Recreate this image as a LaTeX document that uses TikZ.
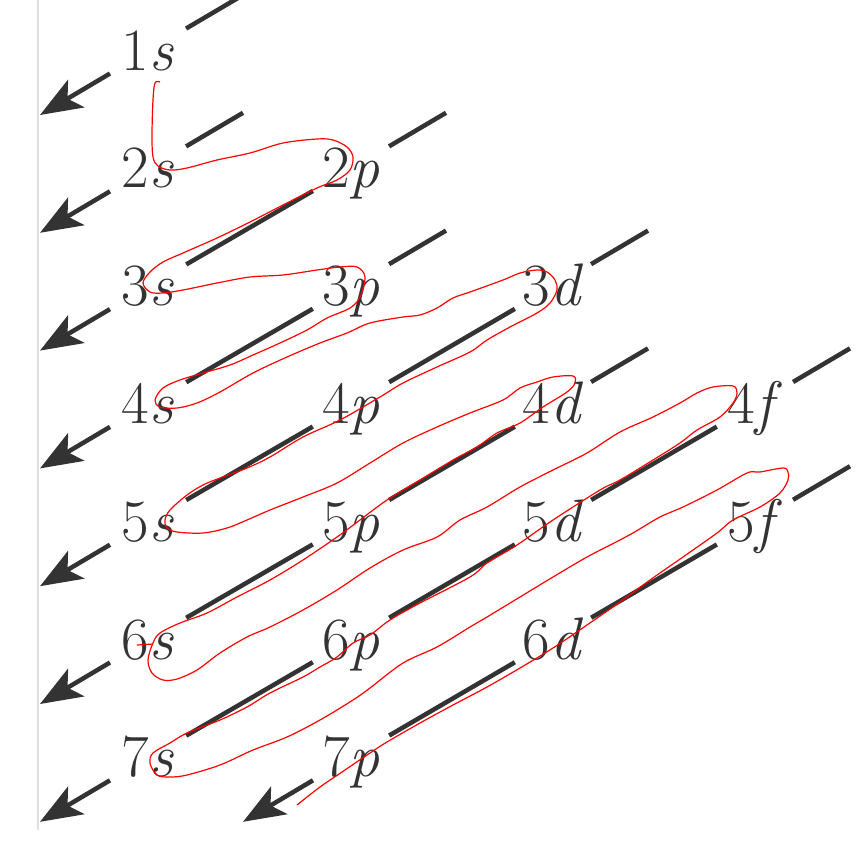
\documentclass[tikz,border=0pt]{standalone}
\usepackage{fontspec}
\usetikzlibrary{arrows.meta}
\begin{document}
\begin{tikzpicture}[x=1pt, y=-1pt,
  orb/.style = {circle, inner sep=0pt, minimum size=88pt,
    text height=38pt, text depth=0pt, text=black!80,
    font=\fontsize{60}{61}\selectfont},
  diag/.style = {draw=black!80, line width=4.5pt},
  bigarrow/.style = {-{Stealth[length=42pt, width=32pt, inset=10pt]}}]
  \useasboundingbox (0,0) rectangle (867,863);
  \draw[gray!25, line width=2pt] (38,0) -- (38,830);
  % orbital labels
  \foreach \n in {1,...,7}
    \node[orb] (s\n) at (148, {51+117.8*(\n-1)}) {\n\textit{s}};
  \foreach \n in {2,...,7}
    \node[orb] (p\n) at (351, {51+117.8*(\n-1)}) {\n\textit{p}};
  \foreach \n in {3,...,6}
    \node[orb] (d\n) at (553, {51+117.8*(\n-1)}) {\n\textit{d}};
  \foreach \n in {4,5}
    \node[orb] (f\n) at (755, {51+117.8*(\n-1)}) {\n\textit{f}};
  % diagonals
  \foreach \a/\b in {p2/s3, p3/s4, d3/p4, p4/s5, d4/p5, p5/s6,
                     f4/d5, d5/p6, p6/s7, f5/d6, d6/p7}
    \draw[diag] (\a) -- (\b);
  \foreach \n in {s1, s2, p2, p3, d3, d4, f4, f5}
    \draw[diag] (\n) -- ++(95,-56);
  \foreach \n in {s1, s2, s3, s4, s5, s6, s7, p7}
    \draw[diag, bigarrow] (\n) -- ++(-108,64);
  % hand-drawn filling order
  \draw[red, line width=1.2pt, line join=round]
    plot[smooth, tension=0.55] coordinates {
    (160,82) (155,83) (153,100) (152,135) (153,157) (158,166) (170,170)
    (187,168) (217,160) (250,153) (283,143) (317,139) (333,140) (347,147)
    (353,157) (350,170) (337,180) (317,188) (283,205) (250,222) (217,238)
    (183,253) (163,262) (150,272) (143,283) (150,292) (163,293) (183,290)
    (217,283) (250,277) (283,275) (317,270) (340,267) (357,267) (365,277)
    (360,297) (350,308) (327,318) (307,330) (280,343) (253,355) (230,365)
    (203,373) (180,380) (163,388) (155,400) (160,407) (177,408) (197,403)
    (220,392) (253,373) (287,357) (320,343) (347,333) (370,323) (403,317)
    (420,315) (437,308) (453,298) (470,292) (503,280) (520,273) (537,270)
    (547,272) (555,280) (557,290) (550,303) (537,313) (510,327) (487,340)
    (470,352) (437,367) (403,383) (380,397) (340,420) (303,437) (270,457)
    (247,468) (220,478) (203,485) (187,495) (170,510) (165,520) (167,528)
    (177,532) (203,533) (227,528) (247,520) (270,510) (303,497) (337,483)
    (370,463) (403,443) (437,427) (470,413) (503,400) (520,388) (537,382)
    (553,377) (573,376) (575,383) (567,392) (543,407) (520,423) (497,433)
    (477,447) (453,460) (420,480) (387,500) (360,520) (337,537) (303,560)
    (270,580) (237,597) (207,613) (180,623) (160,633) (153,643) (148,660)
    (152,673) (163,680) (177,679) (197,670) (220,653) (247,637) (270,627)
    (303,610) (337,590) (370,568) (403,550) (437,537) (460,520) (487,507)
    (520,487) (553,470) (587,453) (620,432) (653,417) (680,403) (697,393)
    (713,387) (733,386) (737,393) (733,403) (720,417) (697,430) (680,443)
    (653,460) (620,480) (600,490) (553,520) (517,545) (487,563) (470,577)
    (420,603) (390,620) (370,635) (353,643) (337,657) (320,667) (303,677)
    (270,693) (247,707) (220,720) (187,733) (170,743) (153,753) (150,763)
    (157,775) (170,777) (187,775) (220,765) (253,750) (287,737) (320,720)
    (353,700) (370,688) (403,663) (437,647) (470,627) (487,617) (520,597)
    (553,577) (587,557) (620,540) (633,533) (660,517) (683,507) (717,490)
    (747,473) (760,472) (783,468) (788,472) (788,480) (780,493) (760,507)
    (733,520) (717,533) (683,557) (650,580) (620,602) (587,625) (553,648)
    (520,668) (487,687) (453,705) (420,723) (387,742) (370,753) (345,770)
    (320,787) (297,805)};
  \draw[red, line width=1.2pt] (137,645) -- (153,644);
\end{tikzpicture}
\end{document}
